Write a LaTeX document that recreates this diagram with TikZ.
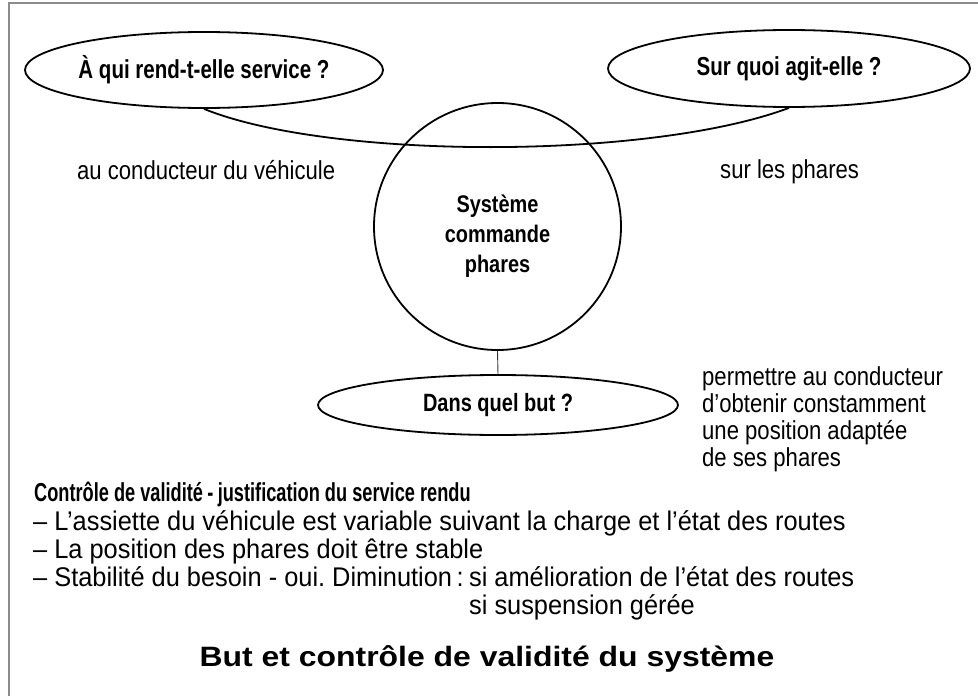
\documentclass[tikz,border=0pt]{standalone}
\usepackage{fontspec}
\setmainfont{Liberation Sans}
\newfontfamily\fReg[FakeStretch=0.85]{Liberation Sans}
\newfontfamily\fBody[FakeStretch=0.94]{Liberation Sans}
\newfontfamily\fBold[FakeStretch=0.79]{Liberation Sans}
\newfontfamily\fDans[FakeStretch=0.80]{Liberation Sans}
\newfontfamily\fCirc[FakeStretch=0.83]{Liberation Sans}
\newfontfamily\fHead[FakeStretch=0.70]{Liberation Sans}
\newfontfamily\fTitle[FakeStretch=1.14]{Liberation Sans}
\usetikzlibrary{shapes.geometric}
\definecolor{framec}{RGB}{140,140,140}
\frenchspacing
\begin{document}
\begin{tikzpicture}[x=1pt,y=-1pt,
  oval/.style={draw, ellipse, line width=1.8pt, inner sep=0pt,
    font=\fBold\bfseries\fontsize{26}{30}\selectfont},
  plain/.style={inner sep=0pt, anchor=base west,
    font=\fReg\fontsize{26}{27}\selectfont},
  body/.style={inner sep=0pt, anchor=base west,
    font=\fBody\fontsize{27}{27.5}\selectfont},
  conn/.style={line width=1.8pt},
  thin conn/.style={line width=0.9pt, black!80}]
\useasboundingbox (0,0) rectangle (978,696);
\fill[white] (0,0) rectangle (978,696);
% frame (top and left)
\draw[framec, line width=1.5pt] (978,3) -- (9,3) -- (9,696);

% ovals
\node[oval, minimum width=358pt, minimum height=76pt] (q1) at (204,70) {À qui rend-t-elle service ?};
\node[oval, minimum width=362pt, minimum height=77pt] (q2) at (789,68.5) {Sur quoi agit-elle ?};
\node[oval, minimum width=360pt, minimum height=60pt,
      font=\fDans\bfseries\fontsize{25}{28}\selectfont] (q3) at (498,405) {Dans quel but ?};

% connector between the two top ovals
\draw[conn] (q1.south) .. controls (330,160) and (650,160) .. (q2.south);

% central circle
\node[draw, circle, line width=1.8pt, minimum size=247pt, inner sep=0pt] (sys) at (497.5,226.5) {};
\node[inner sep=0pt, align=center, font=\fCirc\bfseries\fontsize{24}{30}\selectfont] (systxt) at (497.5,236) {Système\\commande\\phares};

% connector circle -> Dans quel but
\draw[thin conn] (sys.south) -- (q3.north);

% answers
\node[plain] (a1) at (77,179) {au conducteur du véhicule};
\node[plain] (a2) at (720,178) {sur les phares};
\node[plain] (a3a) at (702,385) {permettre au conducteur};
\node[plain] (a3b) at (702,412) {d’obtenir constamment};
\node[plain] (a3c) at (702,439) {une position adaptée};
\node[plain] (a3d) at (702,466) {de ses phares};

% validity control
\node[inner sep=0pt, anchor=base west, font=\fHead\bfseries\fontsize{26}{27}\selectfont] (h) at (34,501)
  {Contrôle de validité\,-\,justification du service rendu};
\node[body] (b1) at (33,530) {– L’assiette du véhicule est variable suivant la charge et l’état des routes};
\node[body] (b2) at (33,558) {– La position des phares doit être stable};
\node[body] (b3) at (33,586) {\begin{tabular}[t]{@{}l@{}l@{}}– Stabilité du besoin - oui. Diminution\,:\hspace{0.2em} & si amélioration de l’état des routes\\
  & si suspension gérée\end{tabular}};

% title
\node[inner sep=0pt, anchor=base, font=\fTitle\bfseries\fontsize{28}{30}\selectfont] (title) at (487,666)
  {But et contrôle de validité du système};
\end{tikzpicture}
\end{document}
